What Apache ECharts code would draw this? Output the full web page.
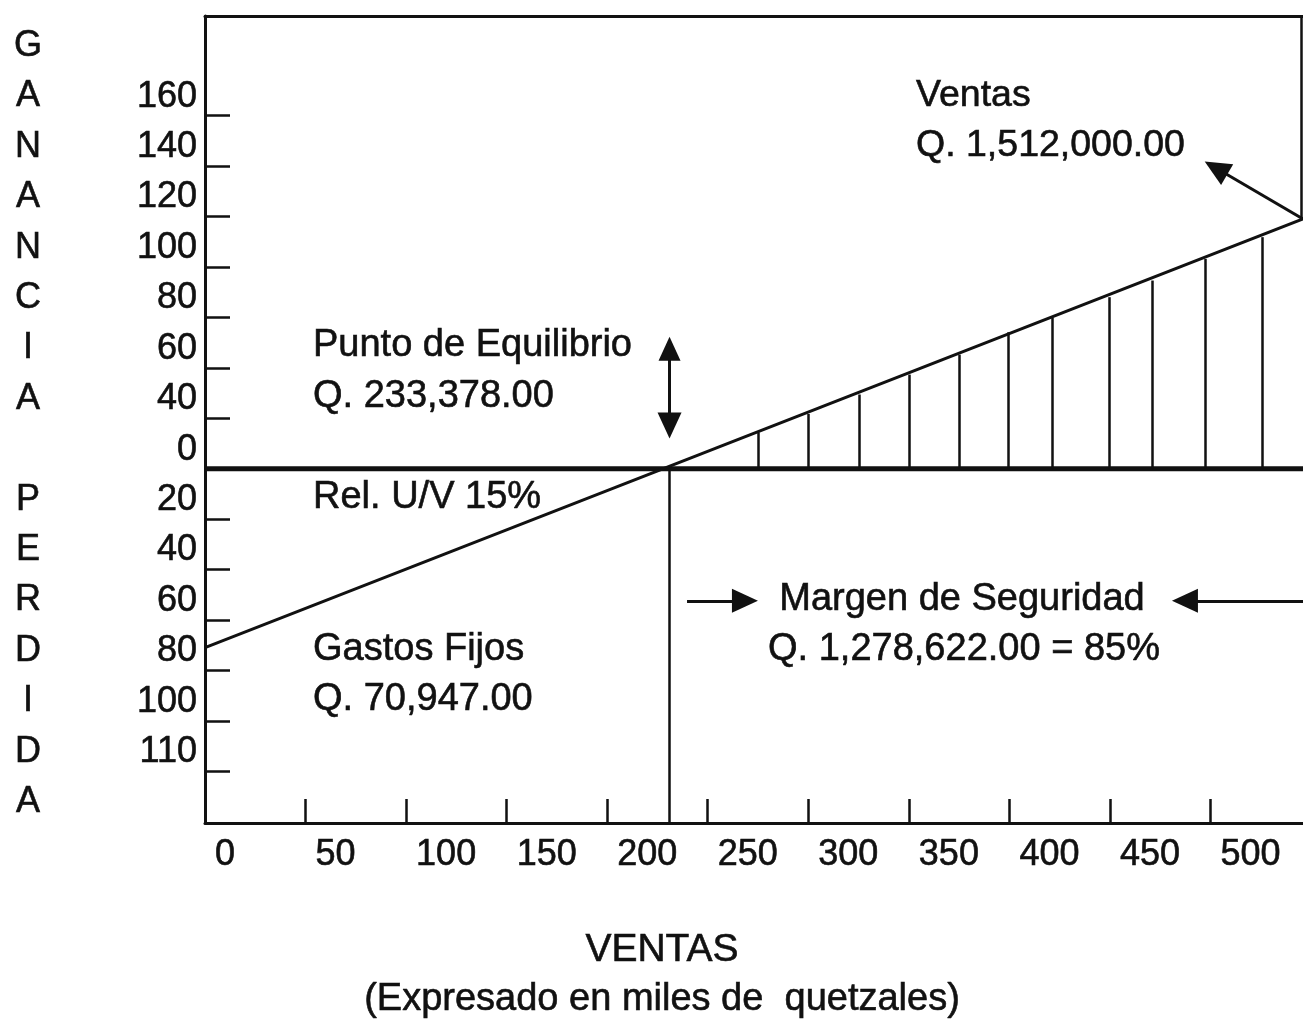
<!DOCTYPE html>
<html><head><meta charset="utf-8">
<script src="https://cdn.jsdelivr.net/npm/echarts@6/dist/echarts.min.js"></script>
<style>html,body{margin:0;padding:0;background:#fff}#c{width:1303px;height:1023px}</style>
</head><body><div id="c"></div>
<script>
// ---- data (thousands of quetzales) ----
const xLabelValues = [0, 50, 100, 150, 200, 250, 300, 350, 400, 450, 500];
const xTickValues = [50, 100, 150, 200, 250, 300, 350, 400, 450, 500];
const yTickValues = [-120, -100, -80, -60, -40, -20, 0, 20, 40, 60, 80, 100, 120, 140];
const yTickLabels = ['110', '100', '80', '60', '40', '20', '0', '40', '60', '80', '100', '120', '140', '160'];
const salesLine = [[0, -70.947], [546, 99]];
const zeroLine = [[0, 0], [546, 0]];
const breakEvenX = 231;
const hatchX = [275.1, 300.0, 325.4, 350.2, 375.1, 399.5, 421.4, 449.8, 471.1, 497.5, 525.9];
const hatchTop = [14.4, 21.7, 29.4, 37.3, 45.2, 54.1, 59.8, 68.0, 74.6, 83.2, 91.8];
const ventasArrow = [[546, 99], [502.7, 119.2]];
const equilibrioArrow = [[231, 47.6], [231, 17.1]];
const margenLeftArrow = [[239.7, -52.4], [268.5, -52.4]];
const margenRightArrow = [[546, -52.4], [487.3, -52.4]];
const rightFrame = [[545.3, 179.5], [545.3, 99]];
const yTitle = ['G','A','N','A','N','C','I','A','','P','E','R','D','I','D','A'];

const INK = '#111';
const FONT = "'Liberation Sans', Arial, sans-serif";
const yLabelMap = {};
yTickValues.forEach((v, i) => { yLabelMap[v] = yTickLabels[i]; });

function txt(x, y, text, size, align) {
  return { type: 'text', x: x, y: y, silent: true,
    style: { text: text, fill: INK, fontSize: size, fontFamily: FONT,
      stroke: INK, lineWidth: 0.6,
      align: align || 'left', verticalAlign: 'middle' } };
}

const hatchLines = hatchX.map((x, i) => [{ coord: [x, 0] }, { coord: [x, hatchTop[i]] }]);
function seg(a) { return [{ coord: a[0] }, { coord: a[1] }]; }

const graphics = [];
yTitle.forEach((ch, i) => { if (ch) graphics.push(txt(28, 46 + i * 50.4, ch, 36, 'center')); });
graphics.push(txt(916, 96, 'Ventas', 37.5));
graphics.push(txt(916, 146, 'Q. 1,512,000.00', 37.5));
graphics.push(txt(313, 346, 'Punto de Equilibrio', 38));
graphics.push(txt(313, 397, 'Q. 233,378.00', 38));
graphics.push(txt(313, 498, 'Rel. U/V 15%', 38));
graphics.push(txt(313, 650, 'Gastos Fijos', 38));
graphics.push(txt(313, 700, 'Q. 70,947.00', 38));
graphics.push(txt(962, 600, 'Margen de Seguridad', 38, 'center'));
graphics.push(txt(964, 650, 'Q. 1,278,622.00 = 85%', 38, 'center'));
graphics.push(txt(662, 950, 'VENTAS', 39, 'center'));
graphics.push(txt(662, 1000, '(Expresado en miles de  quetzales)', 38, 'center'));

const axisLineStyle = { color: INK, width: 3 };

const chart = echarts.init(document.getElementById('c'), null, { renderer: 'canvas' });
chart.setOption({
  animation: false,
  backgroundColor: '#fff',
  grid: { left: 205, top: 16, right: 0, bottom: 200, show: false },
  xAxis: [{
    type: 'value', min: 0, max: 546, position: 'bottom',
    splitLine: { show: false },
    axisLine: { show: true, onZero: false, lineStyle: axisLineStyle },
    axisTick: { show: true, inside: true, length: 24, customValues: xTickValues,
      lineStyle: { color: INK, width: 2.5 } },
    axisLabel: { customValues: xLabelValues, align: 'left', padding: [0, 0, 0, 10],
      margin: 12, color: INK, fontSize: 36, lineHeight: 40, fontFamily: FONT,
      textBorderColor: INK, textBorderWidth: 0.6,
      formatter: v => String(v) }
  }, {
    type: 'value', min: 0, max: 546, position: 'top',
    splitLine: { show: false },
    axisLine: { show: true, onZero: false, lineStyle: axisLineStyle },
    axisTick: { show: false }, axisLabel: { show: false }
  }],
  yAxis: {
    type: 'value', min: -140.5, max: 179.5, position: 'left',
    splitLine: { show: false },
    axisLine: { show: true, onZero: false, lineStyle: axisLineStyle },
    axisTick: { show: true, inside: true, length: 25, customValues: yTickValues,
      lineStyle: { color: INK, width: 2.5 } },
    axisLabel: { customValues: yTickValues, align: 'right', verticalAlign: 'bottom',
      margin: 8, color: INK, fontSize: 36, lineHeight: 38, fontFamily: FONT,
      textBorderColor: INK, textBorderWidth: 0.6,
      formatter: v => (yLabelMap[v] !== undefined ? yLabelMap[v] : '') }
  },
  series: [
    { type: 'line', data: zeroLine, symbol: 'none', z: 4,
      lineStyle: { color: INK, width: 5 },
      markLine: { silent: true, symbol: 'none', label: { show: false },
        lineStyle: { color: INK, width: 2.5, type: 'solid' },
        data: hatchLines.concat([
          [{ coord: [breakEvenX, 0] }, { coord: [breakEvenX, -140.5] }],
          seg(rightFrame)
        ]) } },
    { type: 'line', data: salesLine, symbol: 'none', z: 5,
      lineStyle: { color: INK, width: 3 },
      markLine: { silent: true, symbol: ['none', 'triangle'], symbolSize: [24, 26],
        label: { show: false },
        lineStyle: { color: INK, width: 3, type: 'solid' },
        itemStyle: { color: INK },
        data: [
          seg(ventasArrow),
          seg(margenLeftArrow),
          seg(margenRightArrow),
          seg(equilibrioArrow)
        ] } },
    { type: 'line', data: [], symbol: 'none',
      markLine: { silent: true, symbol: ['triangle', 'none'], symbolSize: [22, 24],
        label: { show: false },
        lineStyle: { color: INK, width: 3, type: 'solid' },
        data: [seg(equilibrioArrow)] } }
  ],
  graphic: graphics
});
</script>
</body></html>
